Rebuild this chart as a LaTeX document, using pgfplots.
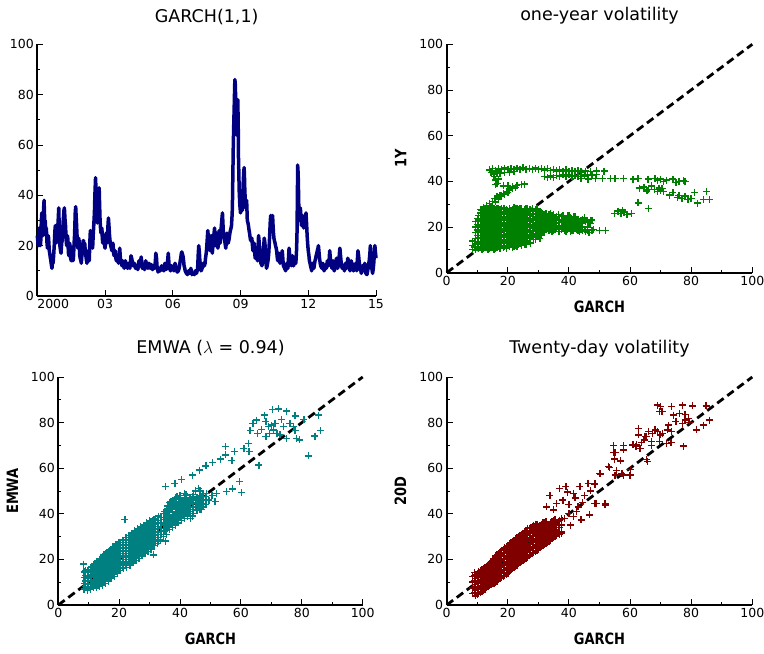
\documentclass[border=0pt]{standalone}
\usepackage{fontspec}
\setmainfont{DejaVu Sans}
\usepackage{pgfplots}
\pgfplotsset{compat=1.18}
\usepackage{pgfplotstable}
\definecolor{navyc}{RGB}{0,0,128}
\definecolor{greenc}{RGB}{0,128,0}
\definecolor{tealc}{RGB}{0,128,128}
\definecolor{redc}{RGB}{128,0,0}

\pgfplotstableread{
x a b c d e f g h
8.5 10.2 12.0 13.8 nan nan nan nan nan
9.5 10.0 12.5 15.0 17.5 20.0 22.5 nan nan
10.5 10.5 13.0 15.5 18.0 20.5 23.0 25.0 nan
11.5 10.0 12.5 15.0 17.5 20.0 22.5 25.0 27.5
12.5 11.0 13.5 16.0 18.5 21.0 23.5 26.0 28.0
13.5 10.0 12.5 15.0 17.5 20.0 22.5 25.0 27.5
14.5 11.0 13.5 16.0 18.5 21.0 23.5 26.0 28.2
15.5 10.0 12.5 15.0 17.5 20.0 22.5 25.0 27.5
16.5 11.0 13.5 16.0 18.5 21.0 23.5 26.0 28.0
17.5 10.5 13.0 15.5 18.0 20.5 23.0 25.5 27.8
18.5 11.0 13.5 16.0 18.5 21.0 23.5 26.0 28.2
19.5 10.5 13.0 15.5 18.0 20.5 23.0 25.5 27.5
20.5 11.5 14.0 16.5 19.0 21.5 24.0 26.5 28.0
21.5 11.0 13.5 16.0 18.5 21.0 23.5 26.0 27.5
22.5 12.0 14.5 17.0 19.5 22.0 24.5 27.0 28.3
23.5 12.5 15.0 17.5 20.0 22.5 25.0 27.5 nan
24.5 13.5 16.0 18.5 21.0 23.5 26.0 28.0 nan
25.5 12.5 15.0 17.5 20.0 22.5 25.0 27.5 nan
26.5 14.0 16.5 19.0 21.5 24.0 26.5 28.0 nan
27.5 15.5 18.0 20.5 23.0 25.5 27.5 nan nan
28.5 14.5 17.0 19.5 22.0 24.5 27.0 nan nan
29.5 16.5 19.0 21.5 24.0 26.0 28.0 nan nan
30.5 17.5 20.0 22.5 25.0 27.0 nan nan nan
31.5 18.0 20.5 23.0 25.5 nan nan nan nan
32.5 19.0 21.5 24.0 26.0 nan nan nan nan
33.5 18.5 21.0 23.5 25.5 nan nan nan nan
34.5 18.0 20.5 23.0 25.0 nan nan nan nan
35.5 19.0 21.5 24.0 nan nan nan nan nan
36.5 18.0 20.5 23.0 25.5 nan nan nan nan
37.5 19.0 22.0 24.5 nan nan nan nan nan
38.5 18.5 21.0 23.5 nan nan nan nan nan
39.5 19.0 22.0 25.0 nan nan nan nan nan
40.5 18.0 21.5 24.0 nan nan nan nan nan
41.5 18.5 22.0 24.5 nan nan nan nan nan
42.5 19.0 21.0 23.0 nan nan nan nan nan
43.5 18.0 22.5 nan nan nan nan nan nan
44.5 18.5 21.5 23.5 nan nan nan nan nan
45.5 18.0 22.5 nan nan nan nan nan nan
46.5 17.5 22.0 nan nan nan nan nan nan
47.5 18.5 23.0 nan nan nan nan nan nan
9 11.2 13.7 nan nan nan nan nan nan
10 11.2 13.7 16.2 18.7 21.2 23.7 nan nan
11 11.2 13.7 16.2 18.7 21.2 23.7 26.2 nan
12 10.5 13.0 15.5 18.0 20.5 23.0 25.5 27.8
13 11.5 14.0 16.5 19.0 21.5 24.0 26.5 28.3
14 10.8 13.3 15.8 18.3 20.8 23.3 25.8 27.8
15 11.5 14.0 16.5 19.0 21.5 24.0 26.5 28.3
16 10.8 13.3 15.8 18.3 20.8 23.3 25.8 27.8
17 11.5 14.0 16.5 19.0 21.5 24.0 26.5 28.3
18 11.8 14.3 16.8 19.3 21.8 24.3 26.8 28.0
19 11.5 14.0 16.5 19.0 21.5 24.0 26.5 28.3
20 12.0 14.5 17.0 19.5 22.0 24.5 27.0 nan
21 12.2 14.7 17.2 19.7 22.2 24.7 27.2 nan
22 11.5 14.0 16.5 19.0 21.5 24.0 26.5 28.5
23 13.7 16.2 18.7 21.2 23.7 26.2 28.3 nan
24 13.0 15.5 18.0 20.5 23.0 25.5 28.0 nan
25 14.2 16.7 19.2 21.7 24.2 26.7 nan nan
26 13.5 16.0 18.5 21.0 23.5 26.0 28.0 nan
27 15.0 17.5 20.0 22.5 25.0 27.5 nan nan
28 16.0 18.5 21.0 23.5 26.0 28.0 nan nan
29 15.5 18.0 20.5 23.0 25.5 27.5 nan nan
30 17.0 19.5 22.0 24.5 27.0 nan nan nan
31 19.0 21.5 24.0 26.5 nan nan nan nan
32 18.0 20.5 23.0 25.5 nan nan nan nan
33 19.5 22.0 24.5 nan nan nan nan nan
34 19.0 21.5 24.0 26.0 nan nan nan nan
35 18.5 21.0 23.5 25.5 nan nan nan nan
36 19.5 22.0 24.5 nan nan nan nan nan
37 18.0 20.5 23.0 nan nan nan nan nan
38 19.5 22.5 25.0 nan nan nan nan nan
39 18.0 20.5 23.5 nan nan nan nan nan
40 19.5 22.5 25.0 nan nan nan nan nan
41 18.5 20.5 23.0 nan nan nan nan nan
42 19.5 22.0 24.5 nan nan nan nan nan
43 18.5 20.5 23.5 nan nan nan nan nan
44 20.0 22.0 nan nan nan nan nan nan
45 19.0 23.0 nan nan nan nan nan nan
46 20.0 22.5 nan nan nan nan nan nan
47 21.5 nan nan nan nan nan nan nan
}\tOneY

\pgfplotstableread{
x a b c d e f
8.5 7.0 9.5 12.0 14.5 nan nan
9.5 6.5 9.0 11.5 14.5 nan nan
10.5 7.0 9.5 12.0 14.5 16.5 nan
11.5 7.5 10.0 12.5 15.0 17.5 nan
12.5 7.5 10.0 12.5 15.0 17.5 19.0
13.5 8.0 10.5 13.0 15.5 18.0 20.0
14.5 8.5 11.0 13.5 16.0 18.5 21.0
15.5 9.5 12.0 14.5 17.0 19.5 22.5
16.5 10.5 13.0 15.5 18.0 20.5 23.5
17.5 11.5 14.0 16.5 19.0 21.5 24.5
18.5 12.5 15.0 17.5 20.0 22.5 25.5
19.5 14.0 16.5 19.0 21.5 24.0 26.5
20.5 15.0 17.5 20.0 22.5 25.0 27.5
21.5 16.0 18.5 21.0 23.5 26.0 28.5
22.5 16.5 19.0 21.5 24.0 26.5 29.5
23.5 17.5 20.0 22.5 25.0 27.5 30.5
24.5 18.5 21.0 23.5 26.0 28.5 31.5
25.5 19.5 22.0 24.5 27.0 29.5 32.0
26.5 20.5 23.0 25.5 28.0 30.5 33.0
27.5 21.5 24.0 26.5 29.0 31.5 34.0
28.5 22.5 25.0 27.5 30.0 32.5 35.0
29.5 23.5 26.0 28.5 31.0 33.5 35.5
30.5 24.5 27.0 29.5 32.0 34.5 36.5
31.5 26.0 28.5 31.0 33.5 36.0 37.5
32.5 27.0 29.5 32.0 34.5 37.0 nan
33.5 28.5 31.0 33.5 36.0 38.5 nan
34.5 30.0 32.5 35.0 37.5 40.0 nan
35.5 31.0 34.0 37.0 39.5 42.0 nan
36.5 33.0 36.0 39.0 42.0 45.0 nan
37.5 34.0 37.5 40.5 43.5 nan nan
38.5 35.0 38.0 41.0 44.0 47.0 nan
39.5 36.0 39.5 42.5 45.5 nan nan
40.5 37.0 40.0 43.0 46.0 nan nan
41.5 38.0 41.0 44.0 47.0 49.0 nan
42.5 39.0 42.5 45.5 nan nan nan
43.5 38.0 41.0 44.0 47.0 nan nan
44.5 40.0 43.0 46.0 48.5 nan nan
45.5 41.5 44.5 47.0 nan nan nan
46.5 42.0 45.0 48.0 50.0 nan nan
47.5 43.0 46.0 49.0 nan nan nan
48.5 44.0 47.5 nan nan nan nan
9 8.0 10.5 13.0 15.0 nan nan
10 7.8 10.3 12.8 15.3 nan nan
11 8.2 10.7 13.2 15.7 17.0 nan
12 8.8 11.3 13.8 16.3 18.3 nan
13 9.0 11.5 14.0 16.5 19.0 nan
14 9.5 12.0 14.5 17.0 19.5 nan
15 10.5 13.0 15.5 18.0 20.5 22.0
16 11.5 14.0 16.5 19.0 21.5 23.0
17 12.5 15.0 17.5 20.0 22.5 24.0
18 13.5 16.0 18.5 21.0 23.5 25.5
19 15.0 17.5 20.0 22.5 25.0 26.5
20 16.0 18.5 21.0 23.5 26.0 27.5
21 16.5 19.0 21.5 24.0 26.5 28.5
22 17.5 20.0 22.5 25.0 27.5 29.5
23 18.5 21.0 23.5 26.0 28.5 30.5
24 19.5 22.0 24.5 27.0 29.5 31.5
25 20.5 23.0 25.5 28.0 30.5 32.5
26 21.5 24.0 26.5 29.0 31.5 33.5
27 22.5 25.0 27.5 30.0 32.5 34.5
28 23.5 26.0 28.5 31.0 33.5 35.0
29 24.5 27.0 29.5 32.0 34.5 36.0
30 25.5 28.0 30.5 33.0 35.5 37.0
31 27.0 29.5 32.0 34.5 37.0 nan
32 28.0 30.5 33.0 35.5 38.0 nan
33 29.5 32.0 34.5 37.0 39.0 nan
34 31.0 33.5 36.0 38.5 nan nan
35 32.5 35.5 38.5 41.0 nan nan
36 34.0 37.5 40.5 43.5 nan nan
37 35.5 38.5 42.0 45.5 nan nan
38 36.5 39.5 43.0 46.0 nan nan
39 37.5 41.0 44.0 47.5 nan nan
40 38.5 41.5 44.5 48.0 nan nan
41 39.5 42.5 45.5 nan nan nan
42 40.5 43.5 46.5 48.5 nan nan
43 40.0 43.0 45.5 nan nan nan
44 42.0 45.0 47.5 nan nan nan
45 43.0 46.0 nan nan nan nan
46 43.5 46.5 nan nan nan nan
47 44.5 47.5 nan nan nan nan
}\tEMWA

\pgfplotstableread{
x a b c d e f
8.5 5.0 7.5 10.0 12.5 nan nan
9.5 4.0 6.5 9.0 11.5 13.5 nan
10.5 5.0 7.5 10.0 12.5 14.5 nan
11.5 6.0 8.5 11.0 13.5 15.5 nan
12.5 7.0 9.5 12.0 14.5 16.5 nan
13.5 8.0 10.5 13.0 15.5 17.5 nan
14.5 9.0 11.5 14.0 16.5 19.0 nan
15.5 9.5 12.0 14.5 17.0 19.5 nan
16.5 10.5 13.0 15.5 18.0 20.5 22.0
17.5 11.5 14.0 16.5 19.0 21.5 23.0
18.5 12.5 15.0 17.5 20.0 22.5 24.5
19.5 13.5 16.0 18.5 21.0 23.5 25.5
20.5 15.0 17.5 20.0 22.5 25.0 27.0
21.5 16.0 18.5 21.0 23.5 26.0 28.0
22.5 17.0 19.5 22.0 24.5 27.0 29.0
23.5 18.0 20.5 23.0 25.5 28.0 30.0
24.5 19.0 21.5 24.0 26.5 29.0 31.0
25.5 20.0 22.5 25.0 27.5 30.0 32.0
26.5 21.0 23.5 26.0 28.5 31.0 33.5
27.5 22.0 24.5 27.0 29.5 32.0 34.0
28.5 23.0 25.5 28.0 30.5 33.0 35.0
29.5 24.0 26.5 29.0 31.5 34.0 35.5
30.5 25.0 27.5 30.0 32.5 35.0 nan
31.5 26.0 28.5 31.0 33.5 36.0 nan
32.5 27.0 29.5 32.0 34.5 36.5 nan
33.5 28.0 30.5 33.0 35.5 nan nan
34.5 29.0 31.5 34.0 36.5 nan nan
35.5 30.0 32.5 35.0 37.5 nan nan
36.5 31.5 34.0 36.5 nan nan nan
37.5 32.0 35.0 38.0 nan nan nan
9 5.5 8.0 10.5 13.0 nan nan
10 4.5 7.0 9.5 12.0 14.0 nan
11 5.5 8.0 10.5 13.0 15.0 nan
12 6.5 9.0 11.5 14.0 16.0 nan
13 7.5 10.0 12.5 15.0 17.0 nan
14 8.5 11.0 13.5 16.0 18.0 nan
15 9.5 12.0 14.5 17.0 19.5 nan
16 10.0 12.5 15.0 17.5 20.0 21.5
17 11.0 13.5 16.0 18.5 21.0 22.5
18 12.0 14.5 17.0 19.5 22.0 24.0
19 13.0 15.5 18.0 20.5 23.0 25.0
20 14.0 16.5 19.0 21.5 24.0 26.0
21 15.5 18.0 20.5 23.0 25.5 27.5
22 16.5 19.0 21.5 24.0 26.5 28.5
23 17.5 20.0 22.5 25.0 27.5 29.5
24 18.5 21.0 23.5 26.0 28.5 30.5
25 19.5 22.0 24.5 27.0 29.5 31.5
26 20.5 23.0 25.5 28.0 30.5 32.5
27 21.5 24.0 26.5 29.0 31.5 33.5
28 22.5 25.0 27.5 30.0 32.5 34.5
29 23.5 26.0 28.5 31.0 33.5 35.5
30 24.5 27.0 29.5 32.0 34.5 nan
31 25.5 28.0 30.5 33.0 35.5 nan
32 26.5 29.0 31.5 34.0 36.0 nan
33 27.5 30.0 32.5 35.0 nan nan
34 28.5 31.0 33.5 36.0 nan nan
35 29.5 32.0 34.5 37.0 nan nan
36 30.5 33.0 35.5 nan nan nan
37 31.0 34.0 37.0 nan nan nan
}\tTwentyD

\pgfplotsset{
  base/.style={
    scale only axis,
    axis lines=left,
    axis line style={-, line width=1.8pt},
    tick align=inside,
    major tick length=6pt,
    minor tick length=3pt,
    every tick/.style={black, line width=0.9pt},
    minor tick num=1,
    ymin=0, ymax=100, ytick={0,20,...,100},
    tick label style={font=\fontsize{12.5}{14}\selectfont},
    /pgf/number format/assume math mode=true,
    label style={font=\fontsize{13}{15}\selectfont\bfseries},
    title style={font=\fontsize{17.5}{20}\selectfont, anchor=base, yshift=17.6pt},
    clip=false,
  },
  scat/.style={base, xmin=0, xmax=100, xtick={0,20,...,100},
    xlabel={\scalebox{1}[1.2]{GARCH}},
    xlabel style={yshift=-8pt},
    ylabel style={yshift=6pt}},
  pts/.style={only marks, mark=+, mark size=3.5pt, mark options={line width=1.4pt}},
  diag/.style={black, line width=2.8pt, dash pattern=on 8pt off 4.5pt, no marks},
}

\begin{document}
\begin{tikzpicture}
\path[use as bounding box] (0pt,0pt) rectangle (764pt,654pt);

% ---------------- GARCH(1,1) time series
\begin{axis}[base, at={(37.3pt,358pt)}, anchor=south west,
  width=338.7pt, height=251.7pt,
  xmin=2000, xmax=2015, xtick={2000,2003,...,2015},
  xticklabels={\makebox[0pt][l]{2000},03,06,09,12,15},
  title={GARCH(1,1)}, title style={yshift=-2pt}]
\addplot[navyc, line width=3.5pt, line join=round, no marks] table {
x y
2000.00 24
2000.03 21
2000.05 20
2000.08 27
2000.10 26
2000.13 20
2000.15 21
2000.18 30
2000.20 33
2000.23 26
2000.25 24
2000.28 35
2000.30 38
2000.33 29
2000.35 30
2000.38 25
2000.40 27
2000.43 21
2000.45 19
2000.48 24
2000.50 23
2000.53 18
2000.55 17
2000.58 15
2000.60 14
2000.63 12
2000.65 11
2000.68 14
2000.70 13
2000.73 17
2000.75 20
2000.78 26
2000.80 28
2000.83 21
2000.85 22
2000.88 27
2000.90 26
2000.93 31
2000.95 35
2000.98 24
2001.00 20
2001.03 18
2001.05 17
2001.08 21
2001.10 22
2001.13 27
2001.15 30
2001.18 34
2001.20 35
2001.23 30
2001.25 28
2001.28 22
2001.30 20
2001.33 24
2001.35 23
2001.38 17
2001.40 16
2001.43 21
2001.45 20
2001.48 15
2001.50 14
2001.53 19
2001.55 18
2001.58 14
2001.60 15
2001.63 21
2001.65 24
2001.68 33
2001.70 35.5
2001.73 30
2001.75 26
2001.78 20
2001.80 19
2001.83 23
2001.85 22
2001.88 16
2001.90 15
2001.93 14
2001.95 13
2001.98 17
2002.00 18
2002.03 22
2002.05 22
2002.08 19
2002.10 21
2002.13 17
2002.15 16
2002.18 14
2002.20 13
2002.23 17
2002.25 18
2002.28 15
2002.30 14
2002.33 22
2002.35 26
2002.38 23
2002.40 22
2002.43 20
2002.45 19
2002.48 25
2002.50 28
2002.53 33
2002.55 40
2002.58 47
2002.60 42
2002.62 35
2002.64 31
2002.66 29
2002.68 34
2002.70 38
2002.72 41
2002.74 43
2002.76 36
2002.78 30
2002.80 27
2002.82 25
2002.84 26
2002.86 27
2002.88 23
2002.90 21
2002.93 23
2002.95 24
2002.98 20
2003.00 19
2003.03 22
2003.05 25
2003.08 21
2003.10 22
2003.13 28
2003.15 31
2003.18 27
2003.20 24
2003.23 21
2003.25 20
2003.28 19
2003.30 18
2003.33 20
2003.35 21
2003.38 17
2003.40 16
2003.43 17
2003.45 18
2003.48 15
2003.50 14
2003.53 15
2003.55 16
2003.58 14
2003.60 13
2003.63 17
2003.65 19
2003.68 15
2003.70 14
2003.73 13
2003.75 12
2003.78 14
2003.80 13
2003.83 12
2003.85 11
2003.88 13
2003.90 14
2003.93 13
2003.95 12
2003.98 11.5
2004.00 11
2004.03 12
2004.05 13
2004.08 12
2004.10 11
2004.13 14
2004.15 16
2004.18 15
2004.20 14
2004.23 13
2004.25 12
2004.28 12.5
2004.30 13
2004.33 12
2004.35 11
2004.38 11.5
2004.40 12
2004.43 11
2004.45 10.5
2004.48 12
2004.50 14
2004.53 13
2004.55 12
2004.58 14
2004.60 15.5
2004.63 13
2004.65 11
2004.68 11.5
2004.70 12
2004.73 11
2004.75 10.5
2004.78 12
2004.80 14
2004.83 13
2004.85 12
2004.88 11.5
2004.90 11
2004.93 12
2004.95 13
2004.98 12
2005.00 11
2005.03 12
2005.05 12.5
2005.08 11
2005.10 10.5
2005.13 11
2005.15 12
2005.18 11.5
2005.20 11
2005.23 14
2005.25 17
2005.28 15
2005.30 12
2005.33 10.5
2005.35 9.5
2005.38 10
2005.40 11
2005.43 10.5
2005.45 10
2005.48 11
2005.50 12
2005.53 11.5
2005.55 11
2005.58 10.5
2005.60 10
2005.63 12
2005.65 13
2005.68 11
2005.70 10.5
2005.73 11
2005.75 12
2005.78 15
2005.80 17
2005.83 13
2005.85 11
2005.88 10.5
2005.90 10
2005.93 11
2005.95 12
2005.98 11.5
2006.00 11
2006.03 10.5
2006.05 10
2006.08 12
2006.10 13
2006.13 12
2006.15 11
2006.18 10
2006.20 9.5
2006.23 9.8
2006.25 10
2006.28 11
2006.30 12
2006.33 14
2006.35 15
2006.38 17
2006.40 17.5
2006.43 16.5
2006.45 16
2006.48 14
2006.50 12
2006.53 11
2006.55 10
2006.58 9.5
2006.60 9
2006.63 8.8
2006.65 8.5
2006.68 9.5
2006.70 10
2006.73 9.5
2006.75 9
2006.78 10
2006.80 11
2006.83 9.5
2006.85 8.5
2006.88 8.8
2006.90 9
2006.93 8.7
2006.95 8.5
2006.98 9
2007.00 10
2007.03 9.5
2007.05 9
2007.08 10
2007.10 11
2007.13 17
2007.15 20
2007.18 17
2007.20 14
2007.23 12
2007.25 10
2007.28 10.5
2007.30 11
2007.33 12
2007.35 13
2007.38 12.5
2007.40 12
2007.43 13
2007.45 15
2007.48 17
2007.50 19
2007.53 23
2007.55 26
2007.58 23
2007.60 21
2007.63 19
2007.65 18
2007.68 21
2007.70 24
2007.73 20
2007.75 17
2007.78 20
2007.80 23
2007.83 25
2007.85 27
2007.88 23
2007.90 20
2007.93 22
2007.95 25
2007.98 21
2008.00 19
2008.03 23
2008.05 26
2008.08 23
2008.10 21
2008.13 25
2008.15 28
2008.18 31
2008.20 33
2008.23 27
2008.25 24
2008.28 23
2008.30 22
2008.33 20
2008.35 19
2008.38 23
2008.40 25
2008.43 22
2008.45 21
2008.48 22
2008.50 23
2008.53 25
2008.55 26
2008.58 27
2008.60 28
2008.62 31
2008.64 35
2008.66 48
2008.68 60
2008.70 68
2008.72 75
2008.74 83
2008.75 86
2008.77 84
2008.78 80
2008.80 70
2008.81 64
2008.83 68
2008.85 72
2008.87 76
2008.88 78
2008.90 66
2008.91 55
2008.93 47
2008.94 42
2008.96 38
2008.97 36
2008.99 34
2009.00 33
2009.02 35
2009.04 38
2009.06 36
2009.08 34
2009.10 40
2009.12 45
2009.14 49
2009.16 51
2009.18 46
2009.19 42
2009.21 38
2009.23 35
2009.25 36
2009.27 38
2009.29 33
2009.30 30
2009.33 29
2009.35 28
2009.38 26
2009.40 25
2009.43 23
2009.45 22
2009.48 23
2009.50 23
2009.53 20
2009.55 18
2009.58 20
2009.60 21
2009.63 17
2009.65 15
2009.68 16
2009.70 17
2009.73 15
2009.75 14
2009.78 20
2009.80 24
2009.83 21
2009.85 19
2009.88 15
2009.90 13
2009.93 12.5
2009.95 12
2009.98 14
2010.00 16
2010.03 20
2010.05 23
2010.08 21
2010.10 18
2010.13 13
2010.15 11
2010.18 12
2010.20 13
2010.23 15
2010.25 17
2010.28 22
2010.30 26
2010.32 30
2010.34 32
2010.36 30
2010.38 28
2010.40 30
2010.42 32
2010.44 28
2010.46 25
2010.48 23
2010.50 22
2010.53 21
2010.55 20
2010.58 19
2010.60 18
2010.63 15
2010.65 14
2010.68 16
2010.70 17
2010.73 14
2010.75 13
2010.78 14
2010.80 15
2010.83 17
2010.85 18
2010.88 14
2010.90 12
2010.93 11.5
2010.95 11
2010.98 10.5
2011.00 10
2011.03 12
2011.05 13
2011.08 12
2011.10 11
2011.13 16
2011.15 19
2011.18 16
2011.20 14
2011.23 13
2011.25 12
2011.28 14
2011.30 16
2011.33 13
2011.35 12
2011.38 13
2011.40 14
2011.43 13.5
2011.45 13
2011.48 18
2011.50 24
2011.52 40
2011.53 52
2011.55 49
2011.56 46
2011.58 36
2011.60 30
2011.63 33
2011.65 35
2011.68 31
2011.70 28
2011.73 30
2011.75 32
2011.78 29
2011.80 27
2011.83 28
2011.85 29
2011.88 31
2011.90 33
2011.93 28
2011.95 24
2011.98 20
2012.00 18
2012.03 16
2012.05 14
2012.08 13
2012.10 12
2012.13 11
2012.15 10
2012.18 12
2012.20 13
2012.23 12
2012.25 11
2012.28 13
2012.30 14
2012.33 15
2012.35 16
2012.38 17
2012.40 18
2012.43 19
2012.45 20
2012.48 17
2012.50 15
2012.53 13
2012.55 12
2012.58 11.5
2012.60 11
2012.63 12
2012.65 13
2012.68 11
2012.70 10
2012.73 11
2012.75 12
2012.78 11.5
2012.80 11
2012.83 13
2012.85 14
2012.88 13
2012.90 12
2012.93 15
2012.95 18
2012.98 15
2013.00 13
2013.03 12
2013.05 11
2013.08 13
2013.10 14
2013.13 11
2013.15 10
2013.18 11
2013.20 12
2013.23 14
2013.25 15
2013.28 12
2013.30 11
2013.33 12
2013.35 13
2013.38 17
2013.40 19
2013.43 16
2013.45 14
2013.48 12
2013.50 11
2013.53 11.5
2013.55 12
2013.58 11
2013.60 10
2013.63 12
2013.65 13
2013.68 12
2013.70 11
2013.73 13
2013.75 15
2013.78 14
2013.80 12
2013.83 11
2013.85 10
2013.88 12
2013.90 14
2013.93 13
2013.95 12
2013.98 11
2014.00 10
2014.03 10.5
2014.05 11
2014.08 12
2014.10 13
2014.13 11
2014.15 10
2014.18 15
2014.20 18
2014.23 16
2014.25 14
2014.28 12
2014.30 11
2014.33 10
2014.35 9
2014.38 10.5
2014.40 12
2014.43 11
2014.45 10
2014.48 11.5
2014.50 13
2014.53 11
2014.55 9
2014.58 8.7
2014.60 8.5
2014.63 10
2014.65 11
2014.68 13
2014.70 14
2014.73 17
2014.75 20
2014.78 16
2014.80 12
2014.83 10
2014.85 9
2014.88 11
2014.90 13
2014.93 17
2014.95 20
2014.98 17
2015.00 15
};
\end{axis}

% ---------------- one-year volatility
\begin{axis}[scat, at={(446.7pt,381.3pt)}, anchor=south west,
  width=305.6pt, height=228.4pt,
  ylabel={\scalebox{1}[1.2]{1Y}}, title={one-year volatility}]
\pgfplotsinvokeforeach{a,b,c,d,e,f,g,h}{
  \addplot[pts, greenc] table[x=x, y=#1] {\tOneY};
}
\addplot[pts, greenc] coordinates {
(14,45)(15,45.5)(16,44.8)(17,45.6)(18,45.2)(19,45.8)(20,45.3)(21,45.7)(22,45.2)(23,45.8)
(24,45.4)(25,45.9)(26,45.3)(27,45.7)(28,45.4)(29,45.8)(30,45.2)(31,45.6)(32,45.0)(33,45.5)
(34,44.8)(35,45.3)(36,44.6)(37,45.1)(38,44.5)(39,45)(40,44.4)(41,44.8)(42,44.2)(43,44.6)
(44,44.1)(45.5,44.5)(47,44.3)(49,44.6)(51.5,44.5)
(14.5,43.8)(15.5,43.2)(16.5,43.9)(17.5,43.5)(19,44)(20.5,43.8)(22,44.2)
(15.5,42)(16,40.5)(16.5,39)(17,41)(16,38.5)(18.5,38)(20,38.3)(21.5,37.6)(23,38.2)(24.5,38.5)(25.5,38.8)
(11,27.8)(12,28.6)(13,29.4)(14,30.3)(15,31.2)(15.8,32.5)(16.5,33.2)(17.5,34)(18.5,34.8)(19.5,35.4)
(20.5,36.2)(21.5,36.8)(22.5,37.3)(14.5,29.2)(16,31)(17,32.3)(18,33.6)(19,34.2)(20,35)
(32,42)(33,41.6)(34,42.3)(35,41.8)(36,42.6)(37,42)(38,42.8)(39,42.2)(40,42.8)(41,42.1)
(42,42.6)(43,42.2)(44,42.9)(45,42.4)(46,43)(47.5,42.6)(49,43)
(44,41.3)(46.3,41)(48.6,41.2)(50.9,41.3)(53.5,41.3)(55.1,41.2)(57.8,41.3)(61,41)(62.6,41.3)(65.9,41)(68.2,41.2)
(69,40.5)(70,41)(71,39.8)(72,40.5)(74,41)(75,39.5)(76,40)(77.5,40.3)(78,39.8)
(63,37)(64.5,37.5)(65.5,35.8)(66,36.5)(67,38)(68,36.5)(69,35.5)(69.5,37)(70,36)(71,35.5)(70.5,36.8)
(73,34)(74,35)(75.5,33)(76,33.8)(77,32.5)(78,33.5)(79,32)(80,32.5)(81,35)(82,30.5)(84,32)(85,35.5)(86,32)
(62.6,30.6)(66,28)
(55,26)(56,27)(57,25.8)(57.5,27.4)(58,26.5)(59,25.5)(60.5,26)
(44,23)(45,24)(46,22.5)(47,23)
(44,18.8)(46,18.5)(48,19)(50,18.5)(52,18.5)
(23,11.5)(24.5,12)(26,12.5)(27.5,13)(29,14.5)(30.5,15)(26,15.5)(28,16)(31,16.5)
};
\addplot[diag] coordinates {(0,0) (100,100)};
\end{axis}

% ---------------- EMWA
\begin{axis}[scat, at={(58.3pt,49pt)}, anchor=south west,
  width=304.4pt, height=228pt,
  ylabel={\scalebox{1}[1.2]{EMWA}}, title={EMWA ($\lambda$ = 0.94)}]
\pgfplotsinvokeforeach{a,b,c,d,e,f}{
  \addplot[pts, tealc] table[x=x, y=#1] {\tEMWA};
}
\addplot[pts, tealc] coordinates {
(8.2,17.9)(21.9,37.6)(31.2,22)(33,28)(35.3,28)(36.5,33)
(35.3,52)(38.3,53.4)(40.5,55)(44,57)(46.3,59.2)(48.5,61)(50.7,62.4)(53.3,64)(55,65.8)(55,69.4)
(57,63.3)(57.8,67.2)(61,68.7)(62.4,70.9)(62.7,67.2)(65.9,61.4)
(63,76.5)(63.9,79.7)(65.2,81.1)(67.7,83.3)(70.4,85.8)(72.3,86)(75,85)(77.8,82.9)(65.4,75.3)
(66.8,77)(68.2,80.4)(69,78.2)(70.1,78.9)(71.2,79.7)(70.6,76.8)(69.3,75.3)(68.2,73.8)(71.8,75.3)
(73.4,81.4)(73.9,78.2)(76.1,79.7)(77.2,78.2)(77.8,76.5)(78.3,73.1)(79.2,72.4)(75,73.1)(72.8,74.6)
(85.4,83.3)(84.3,74.1)(86.2,76.5)(82.1,65.4)(80.7,81.4)
(59.5,54.1)(60.2,49.3)(57.3,50.9)(55.3,49.7)(52,49)(51.5,45.3)(48.7,49)(46,51.2)
(44,39)(47,42)(49.5,46)(50.5,48)(45,50)(42,48)
};
\addplot[diag] coordinates {(0,0) (100,100)};
\end{axis}

% ---------------- Twenty-day volatility
\begin{axis}[scat, at={(446.7pt,49pt)}, anchor=south west,
  width=305.6pt, height=228pt,
  ylabel={\scalebox{1}[1.2]{20D}}, title={Twenty-day volatility}]
\pgfplotsinvokeforeach{a,b,c,d,e,f}{
  \addplot[pts, redc] table[x=x, y=#1] {\tTwentyD};
}
\addplot[pts, redc] coordinates {
(9,14.3)
(33.8,48)(37,51)(39,52)(41.4,49)(43.6,52)(46.3,53.4)(48.5,53)(43,43)(46.7,39.5)(49,44.6)
(51.8,44.6)(44,37.3)(41.4,38.8)(35,41.7)(32.7,43)(37.6,31.5)(35,36.6)(38,46)(40,44)(42,47)
(45,48)(47,50)(40,40)(44.5,45)(50.4,57.5)(48.5,53.1)(51.8,43.9)(48.5,44.6)(39.5,49.5)(36,44.5)
(38.5,38)(40.5,35)(42.5,41)
(50,57.8)(53,60.8)(54.5,70)(54.5,67)(55,64)(57.8,70)(57.8,68)(55.6,59)(57.3,57.5)(60,57)
(55.1,66.8)(56.9,63.2)(53.2,60.4)(55.1,57)(57.8,57)(60.2,59.5)(60.9,70.2)(62.2,70.2)
(63.3,68.7)(62.7,74.6)(62.7,77.5)(63.8,71.2)(64.6,72.4)(65.4,73.8)(66,76)(67.4,75.3)(67.1,71.6)
(68.2,76.8)(68.9,76)(69.8,74.6)(69.6,71.6)(70.7,75.3)(72,70.9)(73.4,71.2)(72.2,76.8)
(73.6,76)(72.5,78.9)(65.8,62.9)(68.9,87.7)(69.9,87)(69.6,84.8)(70.5,84.8)(73.6,87)(77.2,87.7)
(80.5,87.3)(84.9,87.3)(74.2,83.3)(76.1,84.1)(78,83.6)(79.1,81.9)(78,81.1)(77.2,79.7)(75,80.4)
(79.4,80)(81.8,76.8)(84,78.9)(85.9,81.1)(77.4,69.7)(62,69.5)(65.4,63.7)(64.9,74)(67,70)
};
\addplot[diag] coordinates {(0,0) (100,100)};
\end{axis}
\end{tikzpicture}
\end{document}
